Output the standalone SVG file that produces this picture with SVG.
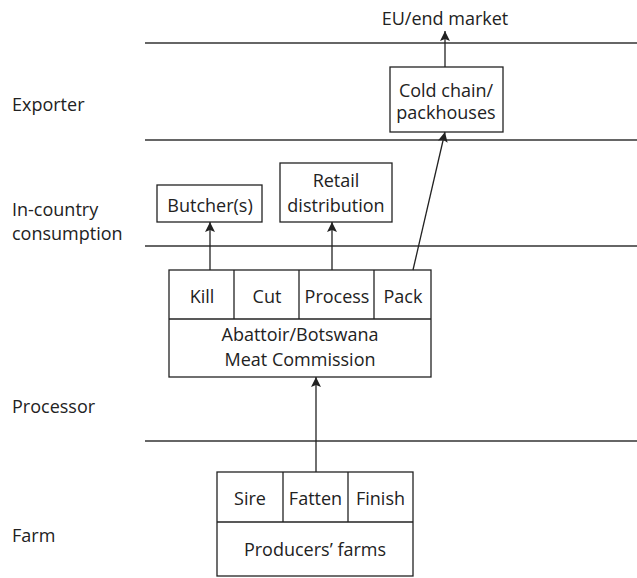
<svg xmlns="http://www.w3.org/2000/svg" width="637" height="578" viewBox="0 0 637 578">
  <style>
    text { font-family: "Open Sans", "Liberation Sans", sans-serif; font-size: 18px; fill: #222; }
    .c { text-anchor: middle; }
    .tier { stroke: #333; stroke-width: 1.3; fill: none; }
    .box { stroke: #222; stroke-width: 1.3; fill: #fff; }
    .div { stroke: #222; stroke-width: 1.3; fill: none; }
    .flow { stroke: #222; stroke-width: 1.3; fill: none; marker-end: url(#arrow); }
  </style>
  <defs>
    <marker id="arrow" viewBox="0 0 10 10" refX="10" refY="5" markerWidth="10" markerHeight="10" markerUnits="userSpaceOnUse" orient="auto">
      <path d="M0,0 L10,5 L0,10 L2,5 z" fill="#222"/>
    </marker>
  </defs>

  <!-- tier separators -->
  <g id="tiers">
    <line class="tier" x1="145" y1="43" x2="637" y2="43"/>
    <line class="tier" x1="145" y1="140" x2="637" y2="140"/>
    <line class="tier" x1="145" y1="246" x2="637" y2="246"/>
    <line class="tier" x1="145" y1="441" x2="637" y2="441"/>
  </g>

  <!-- tier labels -->
  <g id="labels">
    <text x="12" y="111">Exporter</text>
    <text x="12" y="216">In-country</text>
    <text x="12" y="240">consumption</text>
    <text x="12" y="413">Processor</text>
    <text x="12" y="542">Farm</text>
  </g>

  <g id="market">
    <text class="c" x="445" y="25">EU/end market</text>
  </g>

  <g id="cold-chain">
    <rect class="box" x="390" y="67" width="113" height="65"/>
    <text class="c" x="446" y="97">Cold chain/</text>
    <text class="c" x="446" y="119">packhouses</text>
  </g>

  <g id="butchers">
    <rect class="box" x="157" y="185" width="105" height="37"/>
    <text class="c" x="210" y="212">Butcher(s)</text>
  </g>

  <g id="retail">
    <rect class="box" x="280" y="163" width="112" height="59"/>
    <text class="c" x="336" y="187">Retail</text>
    <text class="c" x="336" y="212">distribution</text>
  </g>

  <g id="abattoir">
    <rect class="box" x="169" y="270" width="262" height="107"/>
    <line class="div" x1="169" y1="319" x2="431" y2="319"/>
    <line class="div" x1="234" y1="270" x2="234" y2="319"/>
    <line class="div" x1="299" y1="270" x2="299" y2="319"/>
    <line class="div" x1="374" y1="270" x2="374" y2="319"/>
    <text class="c" x="202" y="303">Kill</text>
    <text class="c" x="267" y="303">Cut</text>
    <text class="c" x="337" y="303">Process</text>
    <text class="c" x="403" y="303">Pack</text>
    <text class="c" x="300" y="341">Abattoir/Botswana</text>
    <text class="c" x="300" y="366">Meat Commission</text>
  </g>

  <g id="farms">
    <rect class="box" x="217" y="472" width="196" height="104"/>
    <line class="div" x1="217" y1="522" x2="413" y2="522"/>
    <line class="div" x1="283" y1="472" x2="283" y2="522"/>
    <line class="div" x1="348" y1="472" x2="348" y2="522"/>
    <text class="c" x="250" y="505">Sire</text>
    <text class="c" x="315.5" y="505">Fatten</text>
    <text class="c" x="380.5" y="505">Finish</text>
    <text class="c" x="315" y="556">Producers’ farms</text>
  </g>

  <!-- flows between stages -->
  <g id="connectors">
    <line class="flow" x1="316" y1="472" x2="316" y2="377"/>
    <line class="flow" x1="210" y1="270" x2="210" y2="222"/>
    <line class="flow" x1="332" y1="270" x2="332" y2="222"/>
    <line class="flow" x1="413" y1="270" x2="445" y2="132"/>
    <line class="flow" x1="445" y1="67" x2="445" y2="31"/>
  </g>
</svg>
